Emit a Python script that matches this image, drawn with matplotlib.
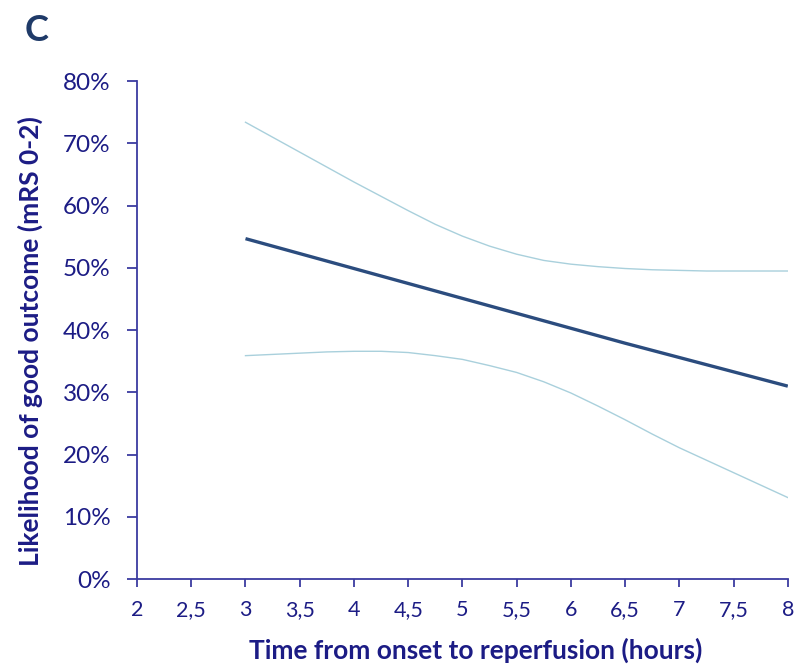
import matplotlib
matplotlib.use("Agg")
import matplotlib.pyplot as plt

hours = [3, 3.5, 4, 4.5, 5, 5.5, 6, 6.5, 7, 7.5, 8]
estimate = [54.7, 52.3, 49.9, 47.5, 45.1, 42.7, 40.3, 37.9, 35.6, 33.3, 31.0]

ci_hours = [3, 3.25, 3.5, 3.75, 4, 4.25, 4.5, 4.75, 5, 5.25, 5.5,
            5.75, 6, 6.25, 6.5, 6.75, 7, 7.25, 7.5, 7.75, 8]
upper_ci = [73.4, 71.0, 68.6, 66.2, 63.8, 61.5, 59.2, 57.0, 55.1, 53.5, 52.2,
            51.2, 50.6, 50.2, 49.9, 49.7, 49.6, 49.5, 49.5, 49.5, 49.5]
lower_ci = [35.9, 36.1, 36.3, 36.5, 36.6, 36.6, 36.4, 35.9, 35.3, 34.3, 33.2,
            31.7, 29.9, 27.8, 25.6, 23.3, 21.1, 19.1, 17.1, 15.1, 13.1]

x_ticks = [2, 2.5, 3, 3.5, 4, 4.5, 5, 5.5, 6, 6.5, 7, 7.5, 8]
x_tick_labels = ["2", "2,5", "3", "3,5", "4", "4,5", "5", "5,5", "6", "6,5", "7", "7,5", "8"]
y_ticks = [0, 10, 20, 30, 40, 50, 60, 70, 80]
y_tick_labels = ["0%", "10%", "20%", "30%", "40%", "50%", "60%", "70%", "80%"]

plt.rcParams['font.family'] = ['Lato', 'DejaVu Sans']

navy = "#1c1c85"
axis_col = "#3c3ca0"

fig = plt.figure(figsize=(8.08, 6.71), dpi=100)
ax = fig.add_axes([0.1696, 0.137, 0.8054, 0.742])

ax.plot(ci_hours, upper_ci, color="#a9d0dc", lw=1.0)
ax.plot(ci_hours, lower_ci, color="#a9d0dc", lw=1.0)
ax.plot(hours, estimate, color="#2b4c7e", lw=2.4, solid_capstyle="butt")

ax.set_xlim(2, 8)
ax.set_ylim(0, 80)
ax.set_xticks(x_ticks)
ax.set_xticklabels(x_tick_labels)
ax.set_yticks(y_ticks)
ax.set_yticklabels(y_tick_labels)

for s in ["top", "right"]:
    ax.spines[s].set_visible(False)
for s in ["left", "bottom"]:
    ax.spines[s].set_color(axis_col)
    ax.spines[s].set_linewidth(1.3)

ax.tick_params(axis="x", direction="out", length=6, width=1.3, color=axis_col,
               labelcolor=navy, labelsize=15.5, pad=9)
ax.tick_params(axis="y", direction="out", length=7, width=1.3, color=axis_col,
               labelcolor=navy, labelsize=17.5, pad=12)

ax.set_xlabel("Time from onset to reperfusion (hours)", fontsize=19, fontweight="bold",
              color=navy, va="center")
ax.xaxis.set_label_coords(0.521, -71 / 498)
ax.set_ylabel("Likelihood of good outcome (mRS 0-2)", fontsize=19, fontweight="bold",
              color=navy, va="center")
ax.yaxis.set_label_coords(-107 / 651, 0.478)

fig.text(0.031, 0.955, "C", fontsize=26, fontweight="bold", color="#1f3a68",
         ha="left", va="center")

fig.savefig("out.png", dpi=100)
